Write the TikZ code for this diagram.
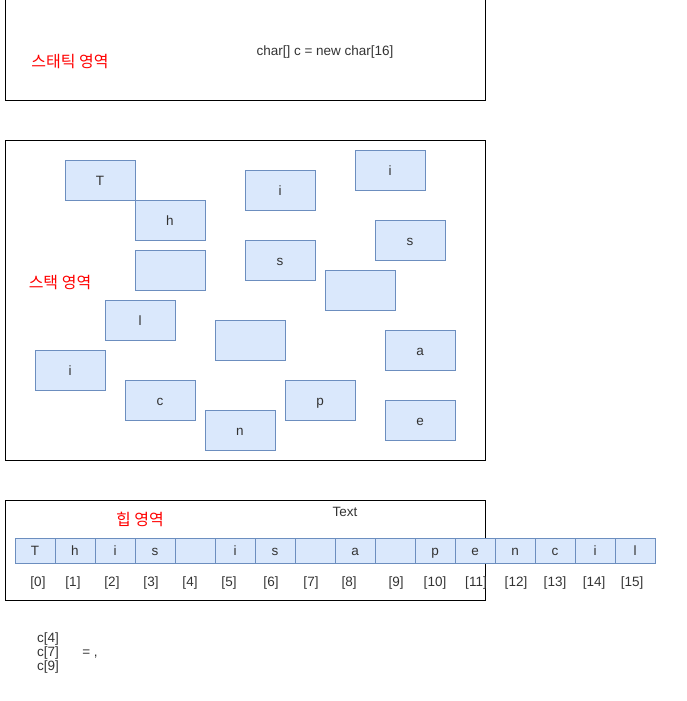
\documentclass[tikz,border=0pt]{standalone}
\usepackage{fontspec}
\setmainfont{Liberation Sans}
\newfontfamily\kofont{Noto Sans CJK KR}
\definecolor{cellfill}{HTML}{DAE8FC}
\definecolor{celldraw}{HTML}{6C8EBF}
\definecolor{txtgray}{HTML}{333333}
\begin{document}
\begin{tikzpicture}[
			x=1pt, y=-1pt,
			area/.style={draw, line width=1pt},
			arealabel/.style={text=red, font=\kofont\fontsize{16}{19}\selectfont, yshift=-1.5pt},
			cell/.style={draw=celldraw, fill=cellfill, line width=1pt, minimum width=70pt, minimum height=40pt, inner sep=0pt, text=txtgray, font=\fontsize{13.5}{16}\selectfont, text height=10pt, text depth=0pt},
			slot/.style={cell, minimum width=40pt, minimum height=25pt},
			plain/.style={text=txtgray, font=\fontsize{13.5}{16}\selectfont, inner sep=0pt, text height=10pt, text depth=0pt}
		]
		\useasboundingbox (0,0) rectangle (686,701);
		% static area
		\draw[area] (5,0) rectangle (485,100);
		\node[arealabel] (static) at (70,60) {스태틱 영역};
		\node[plain] (decl) at (325,51) {char[] c = new char[16]};
		% stack area
		\draw[area] (5,140) rectangle (485,460);
		\node[arealabel] (stack) at (60,281) {스택 영역};
		\node[cell] (sT) at (100,180) {T};
		\node[cell] (sh) at (170,220) {h};
		\node[cell] (sb1) at (170,270) {};
		\node[cell] (sl) at (140,320) {l};
		\node[cell] (si1) at (70,370) {i};
		\node[cell] (sc) at (160,400) {c};
		\node[cell] (sn) at (240,430) {n};
		\node[cell] (sb2) at (250,340) {};
		\node[cell] (sp) at (320,400) {p};
		\node[cell] (si2) at (280,190) {i};
		\node[cell] (ss1) at (280,260) {s};
		\node[cell] (sb3) at (360,290) {};
		\node[cell] (si3) at (390,170) {i};
		\node[cell] (ss2) at (410,240) {s};
		\node[cell] (sa) at (420,350) {a};
		\node[cell] (se) at (420,420) {e};
		% heap area
		\draw[area] (5,500) rectangle (485,600);
		\node[arealabel] (heap) at (140,518) {힙 영역};
		\node[plain] (title) at (345,511) {Text};
		\foreach \ch [count=\k from 0] in {T,h,i,s,{},i,s,{},a,{},p,e,n,c,i,l}
			\node[slot] (c\k) at (35+40*\k,550.5) {\ch};
		\foreach \k/\xx in {0/38,1/73,2/112,3/151,4/190,5/229,6/271,7/311,8/349,9/396,10/435,11/476,12/516,13/555,14/594,15/632}
			\node[plain] (idx\k) at (\xx,581) {[\k]};
		% note
		\node[plain, anchor=west] (n4) at (37,637) {c[4]};
		\node[plain, anchor=west] (n7) at (37,651) {c[7]};
		\node[plain, anchor=west] (n9) at (37,665) {c[9]};
		\node[plain] (eq) at (90,651) {= ,};
	\end{tikzpicture}
\end{document}
